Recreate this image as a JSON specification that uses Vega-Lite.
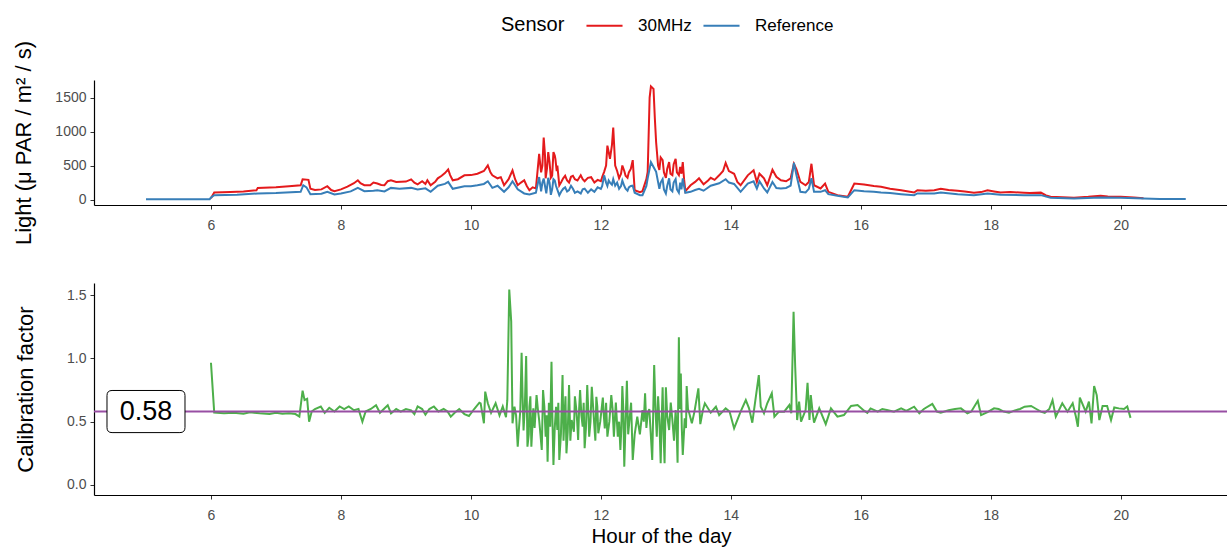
{
"$schema": "https://vega.github.io/schema/vega-lite/v6.json",
"padding": {"left": 12, "top": 6, "right": 0, "bottom": 0},
"config": {
  "view": {"stroke": null},
  "font": "Liberation Sans",
  "axis": {"domainColor": "black", "domainWidth": 1.2, "tickColor": "#333333", "tickSize": 4, "labelColor": "#4d4d4d", "labelFontSize": 14, "titleFontSize": 20.5, "titleFontWeight": "normal", "titleColor": "black", "grid": false, "labelPadding": 9}
},
"datasets": {
  "light": [
{"h":6.0,"v":20,"s":"30MHz"},{"h":6.05,"v":105,"s":"30MHz"},{"h":6.3,"v":110,"s":"30MHz"},{"h":6.5,"v":118,"s":"30MHz"},{"h":6.7,"v":138,"s":"30MHz"},{"h":6.72,"v":172,"s":"30MHz"},{"h":7.0,"v":180,"s":"30MHz"},{"h":7.2,"v":195,"s":"30MHz"},{"h":7.38,"v":211,"s":"30MHz"},{"h":7.41,"v":298,"s":"30MHz"},{"h":7.5,"v":290,"s":"30MHz"},{"h":7.53,"v":160,"s":"30MHz"},{"h":7.6,"v":140,"s":"30MHz"},{"h":7.7,"v":150,"s":"30MHz"},{"h":7.79,"v":197,"s":"30MHz"},{"h":7.85,"v":140,"s":"30MHz"},{"h":7.9,"v":124,"s":"30MHz"},{"h":8.0,"v":150,"s":"30MHz"},{"h":8.1,"v":190,"s":"30MHz"},{"h":8.2,"v":240,"s":"30MHz"},{"h":8.26,"v":284,"s":"30MHz"},{"h":8.3,"v":240,"s":"30MHz"},{"h":8.36,"v":211,"s":"30MHz"},{"h":8.45,"v":210,"s":"30MHz"},{"h":8.5,"v":250,"s":"30MHz"},{"h":8.56,"v":236,"s":"30MHz"},{"h":8.62,"v":215,"s":"30MHz"},{"h":8.67,"v":211,"s":"30MHz"},{"h":8.72,"v":270,"s":"30MHz"},{"h":8.77,"v":284,"s":"30MHz"},{"h":8.85,"v":260,"s":"30MHz"},{"h":9.0,"v":265,"s":"30MHz"},{"h":9.08,"v":298,"s":"30MHz"},{"h":9.13,"v":250,"s":"30MHz"},{"h":9.18,"v":225,"s":"30MHz"},{"h":9.25,"v":270,"s":"30MHz"},{"h":9.3,"v":230,"s":"30MHz"},{"h":9.33,"v":284,"s":"30MHz"},{"h":9.38,"v":211,"s":"30MHz"},{"h":9.45,"v":260,"s":"30MHz"},{"h":9.49,"v":313,"s":"30MHz"},{"h":9.55,"v":350,"s":"30MHz"},{"h":9.6,"v":390,"s":"30MHz"},{"h":9.65,"v":444,"s":"30MHz"},{"h":9.68,"v":360,"s":"30MHz"},{"h":9.72,"v":284,"s":"30MHz"},{"h":9.8,"v":300,"s":"30MHz"},{"h":9.9,"v":357,"s":"30MHz"},{"h":10.0,"v":360,"s":"30MHz"},{"h":10.1,"v":381,"s":"30MHz"},{"h":10.2,"v":420,"s":"30MHz"},{"h":10.26,"v":502,"s":"30MHz"},{"h":10.3,"v":400,"s":"30MHz"},{"h":10.33,"v":357,"s":"30MHz"},{"h":10.41,"v":313,"s":"30MHz"},{"h":10.46,"v":330,"s":"30MHz"},{"h":10.51,"v":211,"s":"30MHz"},{"h":10.58,"v":300,"s":"30MHz"},{"h":10.64,"v":430,"s":"30MHz"},{"h":10.68,"v":300,"s":"30MHz"},{"h":10.72,"v":211,"s":"30MHz"},{"h":10.77,"v":250,"s":"30MHz"},{"h":10.82,"v":284,"s":"30MHz"},{"h":10.86,"v":200,"s":"30MHz"},{"h":10.9,"v":138,"s":"30MHz"},{"h":10.95,"v":180,"s":"30MHz"},{"h":11.0,"v":165,"s":"30MHz"},{"h":11.05,"v":673,"s":"30MHz"},{"h":11.08,"v":400,"s":"30MHz"},{"h":11.1,"v":500,"s":"30MHz"},{"h":11.12,"v":914,"s":"30MHz"},{"h":11.14,"v":650,"s":"30MHz"},{"h":11.15,"v":313,"s":"30MHz"},{"h":11.17,"v":450,"s":"30MHz"},{"h":11.19,"v":699,"s":"30MHz"},{"h":11.21,"v":550,"s":"30MHz"},{"h":11.23,"v":320,"s":"30MHz"},{"h":11.25,"v":350,"s":"30MHz"},{"h":11.27,"v":699,"s":"30MHz"},{"h":11.29,"v":650,"s":"30MHz"},{"h":11.3,"v":600,"s":"30MHz"},{"h":11.32,"v":420,"s":"30MHz"},{"h":11.33,"v":500,"s":"30MHz"},{"h":11.36,"v":211,"s":"30MHz"},{"h":11.39,"v":260,"s":"30MHz"},{"h":11.42,"v":313,"s":"30MHz"},{"h":11.45,"v":350,"s":"30MHz"},{"h":11.48,"v":280,"s":"30MHz"},{"h":11.51,"v":250,"s":"30MHz"},{"h":11.54,"v":335,"s":"30MHz"},{"h":11.57,"v":350,"s":"30MHz"},{"h":11.6,"v":300,"s":"30MHz"},{"h":11.64,"v":280,"s":"30MHz"},{"h":11.69,"v":357,"s":"30MHz"},{"h":11.72,"v":300,"s":"30MHz"},{"h":11.75,"v":270,"s":"30MHz"},{"h":11.8,"v":320,"s":"30MHz"},{"h":11.85,"v":330,"s":"30MHz"},{"h":11.9,"v":250,"s":"30MHz"},{"h":11.95,"v":290,"s":"30MHz"},{"h":12.0,"v":270,"s":"30MHz"},{"h":12.02,"v":330,"s":"30MHz"},{"h":12.05,"v":408,"s":"30MHz"},{"h":12.08,"v":500,"s":"30MHz"},{"h":12.1,"v":794,"s":"30MHz"},{"h":12.12,"v":700,"s":"30MHz"},{"h":12.14,"v":600,"s":"30MHz"},{"h":12.17,"v":800,"s":"30MHz"},{"h":12.19,"v":1060,"s":"30MHz"},{"h":12.22,"v":502,"s":"30MHz"},{"h":12.25,"v":420,"s":"30MHz"},{"h":12.28,"v":313,"s":"30MHz"},{"h":12.31,"v":380,"s":"30MHz"},{"h":12.33,"v":502,"s":"30MHz"},{"h":12.36,"v":420,"s":"30MHz"},{"h":12.38,"v":350,"s":"30MHz"},{"h":12.41,"v":320,"s":"30MHz"},{"h":12.43,"v":400,"s":"30MHz"},{"h":12.46,"v":450,"s":"30MHz"},{"h":12.49,"v":580,"s":"30MHz"},{"h":12.52,"v":138,"s":"30MHz"},{"h":12.6,"v":110,"s":"30MHz"},{"h":12.64,"v":124,"s":"30MHz"},{"h":12.7,"v":300,"s":"30MHz"},{"h":12.72,"v":408,"s":"30MHz"},{"h":12.75,"v":1500,"s":"30MHz"},{"h":12.77,"v":1667,"s":"30MHz"},{"h":12.81,"v":1630,"s":"30MHz"},{"h":12.83,"v":1200,"s":"30MHz"},{"h":12.85,"v":844,"s":"30MHz"},{"h":12.88,"v":500,"s":"30MHz"},{"h":12.9,"v":437,"s":"30MHz"},{"h":12.92,"v":620,"s":"30MHz"},{"h":12.95,"v":580,"s":"30MHz"},{"h":12.97,"v":400,"s":"30MHz"},{"h":13.0,"v":320,"s":"30MHz"},{"h":13.02,"v":450,"s":"30MHz"},{"h":13.05,"v":553,"s":"30MHz"},{"h":13.07,"v":380,"s":"30MHz"},{"h":13.1,"v":360,"s":"30MHz"},{"h":13.12,"v":520,"s":"30MHz"},{"h":13.15,"v":600,"s":"30MHz"},{"h":13.17,"v":400,"s":"30MHz"},{"h":13.2,"v":360,"s":"30MHz"},{"h":13.22,"v":480,"s":"30MHz"},{"h":13.24,"v":380,"s":"30MHz"},{"h":13.26,"v":553,"s":"30MHz"},{"h":13.28,"v":300,"s":"30MHz"},{"h":13.3,"v":124,"s":"30MHz"},{"h":13.38,"v":211,"s":"30MHz"},{"h":13.45,"v":260,"s":"30MHz"},{"h":13.51,"v":313,"s":"30MHz"},{"h":13.58,"v":225,"s":"30MHz"},{"h":13.65,"v":280,"s":"30MHz"},{"h":13.69,"v":320,"s":"30MHz"},{"h":13.75,"v":290,"s":"30MHz"},{"h":13.82,"v":357,"s":"30MHz"},{"h":13.88,"v":420,"s":"30MHz"},{"h":13.92,"v":540,"s":"30MHz"},{"h":13.97,"v":420,"s":"30MHz"},{"h":14.05,"v":380,"s":"30MHz"},{"h":14.1,"v":260,"s":"30MHz"},{"h":14.15,"v":211,"s":"30MHz"},{"h":14.26,"v":357,"s":"30MHz"},{"h":14.35,"v":430,"s":"30MHz"},{"h":14.4,"v":259,"s":"30MHz"},{"h":14.44,"v":381,"s":"30MHz"},{"h":14.51,"v":313,"s":"30MHz"},{"h":14.56,"v":211,"s":"30MHz"},{"h":14.64,"v":440,"s":"30MHz"},{"h":14.7,"v":335,"s":"30MHz"},{"h":14.77,"v":284,"s":"30MHz"},{"h":14.85,"v":270,"s":"30MHz"},{"h":14.92,"v":313,"s":"30MHz"},{"h":14.97,"v":527,"s":"30MHz"},{"h":15.01,"v":446,"s":"30MHz"},{"h":15.07,"v":259,"s":"30MHz"},{"h":15.15,"v":211,"s":"30MHz"},{"h":15.2,"v":259,"s":"30MHz"},{"h":15.24,"v":527,"s":"30MHz"},{"h":15.28,"v":211,"s":"30MHz"},{"h":15.38,"v":163,"s":"30MHz"},{"h":15.45,"v":236,"s":"30MHz"},{"h":15.5,"v":114,"s":"30MHz"},{"h":15.64,"v":65,"s":"30MHz"},{"h":15.8,"v":41,"s":"30MHz"},{"h":15.9,"v":236,"s":"30MHz"},{"h":16.05,"v":221,"s":"30MHz"},{"h":16.2,"v":200,"s":"30MHz"},{"h":16.31,"v":187,"s":"30MHz"},{"h":16.45,"v":160,"s":"30MHz"},{"h":16.62,"v":138,"s":"30MHz"},{"h":16.82,"v":104,"s":"30MHz"},{"h":16.87,"v":138,"s":"30MHz"},{"h":17.0,"v":130,"s":"30MHz"},{"h":17.13,"v":138,"s":"30MHz"},{"h":17.23,"v":160,"s":"30MHz"},{"h":17.35,"v":140,"s":"30MHz"},{"h":17.49,"v":131,"s":"30MHz"},{"h":17.6,"v":120,"s":"30MHz"},{"h":17.74,"v":102,"s":"30MHz"},{"h":17.85,"v":110,"s":"30MHz"},{"h":17.95,"v":138,"s":"30MHz"},{"h":18.05,"v":120,"s":"30MHz"},{"h":18.15,"v":104,"s":"30MHz"},{"h":18.3,"v":110,"s":"30MHz"},{"h":18.51,"v":102,"s":"30MHz"},{"h":18.6,"v":95,"s":"30MHz"},{"h":18.77,"v":102,"s":"30MHz"},{"h":18.85,"v":60,"s":"30MHz"},{"h":18.92,"v":41,"s":"30MHz"},{"h":19.1,"v":35,"s":"30MHz"},{"h":19.28,"v":27,"s":"30MHz"},{"h":19.5,"v":40,"s":"30MHz"},{"h":19.69,"v":56,"s":"30MHz"},{"h":19.8,"v":45,"s":"30MHz"},{"h":20.0,"v":41,"s":"30MHz"},{"h":20.2,"v":30,"s":"30MHz"},{"h":20.35,"v":20,"s":"30MHz"},
{"h":5.0,"v":5,"s":"Reference"},{"h":5.5,"v":5,"s":"Reference"},{"h":5.98,"v":5,"s":"Reference"},{"h":6.0,"v":30,"s":"Reference"},{"h":6.05,"v":65,"s":"Reference"},{"h":6.4,"v":70,"s":"Reference"},{"h":6.72,"v":90,"s":"Reference"},{"h":7.0,"v":95,"s":"Reference"},{"h":7.38,"v":114,"s":"Reference"},{"h":7.42,"v":211,"s":"Reference"},{"h":7.47,"v":180,"s":"Reference"},{"h":7.53,"v":80,"s":"Reference"},{"h":7.7,"v":85,"s":"Reference"},{"h":7.79,"v":114,"s":"Reference"},{"h":7.9,"v":76,"s":"Reference"},{"h":8.0,"v":90,"s":"Reference"},{"h":8.15,"v":120,"s":"Reference"},{"h":8.26,"v":172,"s":"Reference"},{"h":8.36,"v":124,"s":"Reference"},{"h":8.5,"v":130,"s":"Reference"},{"h":8.56,"v":138,"s":"Reference"},{"h":8.67,"v":120,"s":"Reference"},{"h":8.77,"v":172,"s":"Reference"},{"h":8.9,"v":160,"s":"Reference"},{"h":9.08,"v":172,"s":"Reference"},{"h":9.18,"v":150,"s":"Reference"},{"h":9.3,"v":165,"s":"Reference"},{"h":9.38,"v":114,"s":"Reference"},{"h":9.49,"v":204,"s":"Reference"},{"h":9.6,"v":230,"s":"Reference"},{"h":9.65,"v":259,"s":"Reference"},{"h":9.72,"v":158,"s":"Reference"},{"h":9.9,"v":197,"s":"Reference"},{"h":10.0,"v":197,"s":"Reference"},{"h":10.1,"v":210,"s":"Reference"},{"h":10.2,"v":230,"s":"Reference"},{"h":10.26,"v":269,"s":"Reference"},{"h":10.33,"v":172,"s":"Reference"},{"h":10.41,"v":204,"s":"Reference"},{"h":10.51,"v":114,"s":"Reference"},{"h":10.58,"v":180,"s":"Reference"},{"h":10.64,"v":269,"s":"Reference"},{"h":10.72,"v":150,"s":"Reference"},{"h":10.82,"v":90,"s":"Reference"},{"h":10.9,"v":76,"s":"Reference"},{"h":11.0,"v":100,"s":"Reference"},{"h":11.05,"v":332,"s":"Reference"},{"h":11.08,"v":120,"s":"Reference"},{"h":11.1,"v":250,"s":"Reference"},{"h":11.12,"v":310,"s":"Reference"},{"h":11.14,"v":200,"s":"Reference"},{"h":11.16,"v":90,"s":"Reference"},{"h":11.19,"v":320,"s":"Reference"},{"h":11.21,"v":250,"s":"Reference"},{"h":11.23,"v":70,"s":"Reference"},{"h":11.25,"v":150,"s":"Reference"},{"h":11.27,"v":300,"s":"Reference"},{"h":11.29,"v":280,"s":"Reference"},{"h":11.31,"v":200,"s":"Reference"},{"h":11.36,"v":65,"s":"Reference"},{"h":11.39,"v":120,"s":"Reference"},{"h":11.42,"v":158,"s":"Reference"},{"h":11.45,"v":180,"s":"Reference"},{"h":11.48,"v":120,"s":"Reference"},{"h":11.51,"v":140,"s":"Reference"},{"h":11.54,"v":204,"s":"Reference"},{"h":11.57,"v":160,"s":"Reference"},{"h":11.6,"v":100,"s":"Reference"},{"h":11.64,"v":120,"s":"Reference"},{"h":11.69,"v":90,"s":"Reference"},{"h":11.72,"v":150,"s":"Reference"},{"h":11.75,"v":160,"s":"Reference"},{"h":11.8,"v":100,"s":"Reference"},{"h":11.85,"v":150,"s":"Reference"},{"h":11.9,"v":114,"s":"Reference"},{"h":11.95,"v":180,"s":"Reference"},{"h":12.0,"v":158,"s":"Reference"},{"h":12.02,"v":200,"s":"Reference"},{"h":12.05,"v":357,"s":"Reference"},{"h":12.08,"v":250,"s":"Reference"},{"h":12.1,"v":200,"s":"Reference"},{"h":12.12,"v":280,"s":"Reference"},{"h":12.14,"v":250,"s":"Reference"},{"h":12.17,"v":220,"s":"Reference"},{"h":12.19,"v":300,"s":"Reference"},{"h":12.22,"v":204,"s":"Reference"},{"h":12.25,"v":250,"s":"Reference"},{"h":12.28,"v":158,"s":"Reference"},{"h":12.31,"v":200,"s":"Reference"},{"h":12.33,"v":280,"s":"Reference"},{"h":12.36,"v":200,"s":"Reference"},{"h":12.38,"v":160,"s":"Reference"},{"h":12.41,"v":130,"s":"Reference"},{"h":12.43,"v":180,"s":"Reference"},{"h":12.46,"v":200,"s":"Reference"},{"h":12.49,"v":204,"s":"Reference"},{"h":12.52,"v":100,"s":"Reference"},{"h":12.6,"v":65,"s":"Reference"},{"h":12.64,"v":65,"s":"Reference"},{"h":12.7,"v":200,"s":"Reference"},{"h":12.72,"v":313,"s":"Reference"},{"h":12.77,"v":551,"s":"Reference"},{"h":12.81,"v":480,"s":"Reference"},{"h":12.85,"v":408,"s":"Reference"},{"h":12.9,"v":158,"s":"Reference"},{"h":12.92,"v":250,"s":"Reference"},{"h":12.95,"v":300,"s":"Reference"},{"h":12.97,"v":150,"s":"Reference"},{"h":13.0,"v":90,"s":"Reference"},{"h":13.02,"v":200,"s":"Reference"},{"h":13.05,"v":313,"s":"Reference"},{"h":13.07,"v":150,"s":"Reference"},{"h":13.1,"v":120,"s":"Reference"},{"h":13.12,"v":250,"s":"Reference"},{"h":13.15,"v":300,"s":"Reference"},{"h":13.17,"v":150,"s":"Reference"},{"h":13.2,"v":100,"s":"Reference"},{"h":13.22,"v":250,"s":"Reference"},{"h":13.24,"v":150,"s":"Reference"},{"h":13.26,"v":313,"s":"Reference"},{"h":13.28,"v":200,"s":"Reference"},{"h":13.3,"v":100,"s":"Reference"},{"h":13.38,"v":114,"s":"Reference"},{"h":13.45,"v":140,"s":"Reference"},{"h":13.51,"v":158,"s":"Reference"},{"h":13.58,"v":130,"s":"Reference"},{"h":13.69,"v":204,"s":"Reference"},{"h":13.82,"v":240,"s":"Reference"},{"h":13.92,"v":300,"s":"Reference"},{"h":13.97,"v":250,"s":"Reference"},{"h":14.05,"v":230,"s":"Reference"},{"h":14.15,"v":114,"s":"Reference"},{"h":14.26,"v":236,"s":"Reference"},{"h":14.35,"v":269,"s":"Reference"},{"h":14.4,"v":163,"s":"Reference"},{"h":14.44,"v":269,"s":"Reference"},{"h":14.51,"v":163,"s":"Reference"},{"h":14.56,"v":104,"s":"Reference"},{"h":14.64,"v":259,"s":"Reference"},{"h":14.7,"v":170,"s":"Reference"},{"h":14.77,"v":163,"s":"Reference"},{"h":14.85,"v":170,"s":"Reference"},{"h":14.92,"v":204,"s":"Reference"},{"h":14.97,"v":541,"s":"Reference"},{"h":15.01,"v":357,"s":"Reference"},{"h":15.07,"v":114,"s":"Reference"},{"h":15.15,"v":104,"s":"Reference"},{"h":15.2,"v":158,"s":"Reference"},{"h":15.24,"v":313,"s":"Reference"},{"h":15.28,"v":114,"s":"Reference"},{"h":15.38,"v":114,"s":"Reference"},{"h":15.45,"v":138,"s":"Reference"},{"h":15.5,"v":80,"s":"Reference"},{"h":15.64,"v":55,"s":"Reference"},{"h":15.8,"v":32,"s":"Reference"},{"h":15.9,"v":138,"s":"Reference"},{"h":16.05,"v":124,"s":"Reference"},{"h":16.2,"v":115,"s":"Reference"},{"h":16.31,"v":104,"s":"Reference"},{"h":16.45,"v":95,"s":"Reference"},{"h":16.62,"v":80,"s":"Reference"},{"h":16.82,"v":65,"s":"Reference"},{"h":16.87,"v":90,"s":"Reference"},{"h":17.13,"v":90,"s":"Reference"},{"h":17.23,"v":104,"s":"Reference"},{"h":17.49,"v":80,"s":"Reference"},{"h":17.74,"v":65,"s":"Reference"},{"h":17.95,"v":90,"s":"Reference"},{"h":18.15,"v":70,"s":"Reference"},{"h":18.51,"v":65,"s":"Reference"},{"h":18.77,"v":65,"s":"Reference"},{"h":18.92,"v":27,"s":"Reference"},{"h":19.28,"v":17,"s":"Reference"},{"h":19.69,"v":32,"s":"Reference"},{"h":20.0,"v":27,"s":"Reference"},{"h":20.35,"v":15,"s":"Reference"},{"h":20.6,"v":10,"s":"Reference"},{"h":21.0,"v":8,"s":"Reference"}
  ],
  "calib": [
{"h":6.0,"c":0.965},{"h":6.05,"c":0.571},{"h":6.2,"c":0.566},{"h":6.35,"c":0.571},{"h":6.5,"c":0.562},{"h":6.6,"c":0.575},{"h":6.75,"c":0.566},{"h":6.9,"c":0.56},{"h":7.0,"c":0.571},{"h":7.1,"c":0.562},{"h":7.2,"c":0.566},{"h":7.3,"c":0.56},{"h":7.36,"c":0.54},{"h":7.41,"c":0.745},{"h":7.44,"c":0.67},{"h":7.48,"c":0.68},{"h":7.51,"c":0.5},{"h":7.55,"c":0.58},{"h":7.6,"c":0.6},{"h":7.69,"c":0.62},{"h":7.75,"c":0.57},{"h":7.82,"c":0.61},{"h":7.9,"c":0.58},{"h":7.98,"c":0.62},{"h":8.05,"c":0.6},{"h":8.12,"c":0.62},{"h":8.2,"c":0.59},{"h":8.27,"c":0.6},{"h":8.33,"c":0.5},{"h":8.38,"c":0.58},{"h":8.46,"c":0.6},{"h":8.54,"c":0.63},{"h":8.6,"c":0.57},{"h":8.66,"c":0.6},{"h":8.72,"c":0.63},{"h":8.77,"c":0.565},{"h":8.85,"c":0.6},{"h":8.92,"c":0.58},{"h":9.0,"c":0.6},{"h":9.08,"c":0.59},{"h":9.13,"c":0.56},{"h":9.18,"c":0.62},{"h":9.25,"c":0.6},{"h":9.3,"c":0.555},{"h":9.36,"c":0.6},{"h":9.43,"c":0.62},{"h":9.5,"c":0.58},{"h":9.58,"c":0.6},{"h":9.64,"c":0.58},{"h":9.69,"c":0.54},{"h":9.75,"c":0.57},{"h":9.82,"c":0.6},{"h":9.9,"c":0.56},{"h":9.97,"c":0.545},{"h":10.05,"c":0.6},{"h":10.13,"c":0.65},{"h":10.15,"c":0.645},{"h":10.2,"c":0.487},{"h":10.22,"c":0.737},{"h":10.26,"c":0.645},{"h":10.31,"c":0.57},{"h":10.38,"c":0.645},{"h":10.44,"c":0.55},{"h":10.49,"c":0.62},{"h":10.54,"c":0.535},{"h":10.56,"c":0.67},{"h":10.59,"c":1.544},{"h":10.62,"c":1.29},{"h":10.64,"c":0.487},{"h":10.67,"c":0.618},{"h":10.695,"c":0.55},{"h":10.72,"c":0.302},{"h":10.74,"c":0.45},{"h":10.76,"c":0.592},{"h":10.78,"c":1.044},{"h":10.795,"c":0.7},{"h":10.81,"c":0.43},{"h":10.83,"c":0.62},{"h":10.85,"c":1.018},{"h":10.87,"c":0.302},{"h":10.89,"c":0.4},{"h":10.9,"c":0.618},{"h":10.915,"c":0.7},{"h":10.93,"c":0.302},{"h":10.96,"c":0.605},{"h":10.98,"c":0.45},{"h":11.01,"c":0.71},{"h":11.03,"c":0.6},{"h":11.05,"c":0.513},{"h":11.07,"c":0.4},{"h":11.09,"c":0.276},{"h":11.11,"c":0.75},{"h":11.13,"c":0.62},{"h":11.15,"c":0.381},{"h":11.165,"c":0.55},{"h":11.18,"c":0.184},{"h":11.2,"c":0.65},{"h":11.22,"c":0.46},{"h":11.24,"c":0.973},{"h":11.255,"c":0.5},{"h":11.27,"c":0.158},{"h":11.29,"c":0.45},{"h":11.31,"c":0.618},{"h":11.33,"c":0.434},{"h":11.345,"c":0.65},{"h":11.36,"c":0.197},{"h":11.385,"c":0.4},{"h":11.41,"c":0.868},{"h":11.425,"c":0.35},{"h":11.44,"c":0.539},{"h":11.455,"c":0.7},{"h":11.47,"c":0.25},{"h":11.49,"c":0.42},{"h":11.51,"c":0.789},{"h":11.53,"c":0.35},{"h":11.55,"c":0.513},{"h":11.585,"c":0.42},{"h":11.6,"c":0.7},{"h":11.62,"c":0.605},{"h":11.635,"c":0.5},{"h":11.65,"c":0.355},{"h":11.665,"c":0.6},{"h":11.68,"c":0.75},{"h":11.7,"c":0.55},{"h":11.72,"c":0.46},{"h":11.735,"c":0.65},{"h":11.75,"c":0.29},{"h":11.77,"c":0.45},{"h":11.79,"c":0.789},{"h":11.805,"c":0.6},{"h":11.82,"c":0.381},{"h":11.84,"c":0.5},{"h":11.86,"c":0.776},{"h":11.88,"c":0.62},{"h":11.9,"c":0.46},{"h":11.915,"c":0.35},{"h":11.93,"c":0.697},{"h":11.945,"c":0.62},{"h":11.96,"c":0.408},{"h":11.99,"c":0.5},{"h":12.03,"c":0.69},{"h":12.045,"c":0.55},{"h":12.06,"c":0.447},{"h":12.08,"c":0.65},{"h":12.1,"c":0.381},{"h":12.13,"c":0.5},{"h":12.16,"c":0.71},{"h":12.18,"c":0.6},{"h":12.2,"c":0.381},{"h":12.23,"c":0.65},{"h":12.26,"c":0.381},{"h":12.28,"c":0.5},{"h":12.3,"c":0.276},{"h":12.315,"c":0.45},{"h":12.33,"c":0.781},{"h":12.345,"c":0.6},{"h":12.36,"c":0.145},{"h":12.38,"c":0.5},{"h":12.4,"c":0.823},{"h":12.42,"c":0.4},{"h":12.44,"c":0.513},{"h":12.465,"c":0.65},{"h":12.49,"c":0.197},{"h":12.52,"c":0.4},{"h":12.56,"c":0.539},{"h":12.6,"c":0.4},{"h":12.64,"c":0.592},{"h":12.66,"c":0.5},{"h":12.68,"c":0.724},{"h":12.7,"c":0.45},{"h":12.72,"c":0.566},{"h":12.745,"c":0.6},{"h":12.77,"c":0.381},{"h":12.79,"c":0.197},{"h":12.82,"c":0.947},{"h":12.84,"c":0.6},{"h":12.86,"c":0.381},{"h":12.88,"c":0.7},{"h":12.9,"c":0.513},{"h":12.92,"c":0.171},{"h":12.935,"c":0.5},{"h":12.95,"c":0.771},{"h":12.965,"c":0.4},{"h":12.98,"c":0.171},{"h":13.0,"c":0.771},{"h":13.02,"c":0.55},{"h":13.05,"c":0.434},{"h":13.075,"c":0.65},{"h":13.1,"c":0.513},{"h":13.125,"c":0.35},{"h":13.15,"c":0.592},{"h":13.165,"c":0.45},{"h":13.18,"c":0.176},{"h":13.2,"c":1.166},{"h":13.215,"c":0.6},{"h":13.23,"c":0.881},{"h":13.245,"c":0.45},{"h":13.26,"c":0.237},{"h":13.29,"c":0.526},{"h":13.31,"c":0.45},{"h":13.32,"c":0.781},{"h":13.34,"c":0.6},{"h":13.36,"c":0.566},{"h":13.4,"c":0.487},{"h":13.44,"c":0.579},{"h":13.5,"c":0.763},{"h":13.53,"c":0.481},{"h":13.57,"c":0.592},{"h":13.6,"c":0.645},{"h":13.69,"c":0.571},{"h":13.77,"c":0.618},{"h":13.82,"c":0.552},{"h":13.92,"c":0.605},{"h":13.98,"c":0.58},{"h":14.05,"c":0.447},{"h":14.15,"c":0.579},{"h":14.23,"c":0.671},{"h":14.28,"c":0.605},{"h":14.33,"c":0.492},{"h":14.43,"c":0.868},{"h":14.46,"c":0.618},{"h":14.51,"c":0.566},{"h":14.56,"c":0.645},{"h":14.63,"c":0.724},{"h":14.67,"c":0.539},{"h":14.74,"c":0.579},{"h":14.82,"c":0.579},{"h":14.9,"c":0.631},{"h":14.93,"c":0.566},{"h":14.965,"c":1.368},{"h":14.99,"c":0.934},{"h":15.02,"c":0.513},{"h":15.05,"c":0.658},{"h":15.08,"c":0.5},{"h":15.15,"c":0.592},{"h":15.18,"c":0.807},{"h":15.21,"c":0.513},{"h":15.23,"c":0.71},{"h":15.26,"c":0.566},{"h":15.28,"c":0.492},{"h":15.36,"c":0.605},{"h":15.46,"c":0.481},{"h":15.54,"c":0.605},{"h":15.64,"c":0.539},{"h":15.74,"c":0.552},{"h":15.85,"c":0.624},{"h":15.95,"c":0.631},{"h":16.05,"c":0.587},{"h":16.1,"c":0.57},{"h":16.15,"c":0.605},{"h":16.26,"c":0.579},{"h":16.33,"c":0.6},{"h":16.4,"c":0.592},{"h":16.51,"c":0.579},{"h":16.62,"c":0.605},{"h":16.7,"c":0.585},{"h":16.82,"c":0.618},{"h":16.9,"c":0.566},{"h":16.97,"c":0.6},{"h":17.1,"c":0.64},{"h":17.17,"c":0.58},{"h":17.23,"c":0.571},{"h":17.35,"c":0.59},{"h":17.45,"c":0.6},{"h":17.54,"c":0.605},{"h":17.64,"c":0.566},{"h":17.7,"c":0.58},{"h":17.8,"c":0.665},{"h":17.85,"c":0.552},{"h":17.95,"c":0.575},{"h":18.05,"c":0.605},{"h":18.12,"c":0.6},{"h":18.2,"c":0.58},{"h":18.28,"c":0.57},{"h":18.36,"c":0.587},{"h":18.45,"c":0.6},{"h":18.52,"c":0.618},{"h":18.62,"c":0.624},{"h":18.7,"c":0.6},{"h":18.77,"c":0.579},{"h":18.83,"c":0.57},{"h":18.9,"c":0.6},{"h":18.95,"c":0.67},{"h":19.0,"c":0.539},{"h":19.1,"c":0.645},{"h":19.18,"c":0.579},{"h":19.26,"c":0.645},{"h":19.31,"c":0.539},{"h":19.34,"c":0.46},{"h":19.37,"c":0.69},{"h":19.46,"c":0.579},{"h":19.51,"c":0.658},{"h":19.55,"c":0.487},{"h":19.59,"c":0.781},{"h":19.63,"c":0.71},{"h":19.67,"c":0.513},{"h":19.72,"c":0.624},{"h":19.79,"c":0.624},{"h":19.85,"c":0.513},{"h":19.9,"c":0.612},{"h":19.97,"c":0.605},{"h":20.05,"c":0.6},{"h":20.1,"c":0.62},{"h":20.15,"c":0.53}
  ],
  "lab": [{"h": 5.0, "c": 0.58, "t": "0.58"}]
},
"vconcat": [
  {
    "width": 1134, "height": 125,
    "data": {"name": "light"},
    "mark": {"type": "line", "strokeWidth": 2},
    "encoding": {
      "x": {"field": "h", "type": "quantitative", "scale": {"domain": [4.2, 21.65], "nice": false, "zero": false}, "axis": {"title": null, "values": [6,8,10,12,14,16,18,20], "format": "d", "labelFlush": false}},
      "y": {"field": "v", "type": "quantitative", "scale": {"domain": [-80, 1760], "nice": false}, "axis": {"title": "Light (μ PAR / m² / s)", "titleFontSize": 22, "values": [0,500,1000,1500], "format": "d", "labelPadding": 4, "titlePadding": 19}},
      "color": {"field": "s", "type": "nominal", "scale": {"domain": ["30MHz", "Reference"], "range": ["#E41A1C", "#377EB8"]},
        "legend": {"orient": "none", "legendX": 407, "legendY": -74, "direction": "horizontal", "title": "Sensor", "titleOrient": "left", "titleAnchor": "middle", "titleBaseline": "line-top", "titleLineHeight": 10, "titleFontSize": 20, "titleFontWeight": "normal", "titleColor": "black", "titlePadding": 20, "labelFontSize": 17, "labelColor": "black", "symbolType": "stroke", "symbolStrokeWidth": 2.2, "symbolSize": 1300, "columnPadding": 7, "labelOffset": 14}}
    }
  },
  {
    "width": 1134, "height": 212,
    "layer": [
      {
        "data": {"name": "calib"},
        "mark": {"type": "line", "color": "#4DAF4A", "strokeWidth": 2},
        "encoding": {
          "x": {"field": "h", "type": "quantitative", "scale": {"domain": [4.2, 21.65], "nice": false, "zero": false}, "axis": {"title": "Hour of the day", "values": [6,8,10,12,14,16,18,20], "format": "d", "labelFlush": false, "titlePadding": 4}},
          "y": {"field": "c", "type": "quantitative", "scale": {"domain": [-0.079, 1.595], "nice": false}, "axis": {"title": "Calibration factor", "titleFontSize": 22, "values": [0,0.5,1,1.5], "format": ".1f", "labelPadding": 4, "titlePadding": 29}}
        }
      },
      {
        "data": {"name": "lab"},
        "mark": {"type": "rule", "color": "#984EA3", "strokeWidth": 2},
        "encoding": {"y": {"field": "c", "type": "quantitative"}}
      },
      {
        "data": {"name": "lab"},
        "mark": {"type": "point", "shape": "M -0.87 -0.54 L 0.87 -0.54 Q 1 -0.54 1 -0.41 L 1 0.41 Q 1 0.54 0.87 0.54 L -0.87 0.54 Q -1 0.54 -1 0.41 L -1 -0.41 Q -1 -0.54 -0.87 -0.54 Z", "size": 6084, "filled": true, "fill": "white", "stroke": "black", "strokeWidth": 1, "opacity": 1},
        "encoding": {"x": {"field": "h", "type": "quantitative"}, "y": {"field": "c", "type": "quantitative"}}
      },
      {
        "data": {"name": "lab"},
        "mark": {"type": "text", "fontSize": 27, "color": "black"},
        "encoding": {"x": {"field": "h", "type": "quantitative"}, "y": {"field": "c", "type": "quantitative"}, "text": {"field": "t"}}
      }
    ]
  }
],
"spacing": 38,
"resolve": {"scale": {"color": "independent"}, "legend": {"color": "independent"}}
}
